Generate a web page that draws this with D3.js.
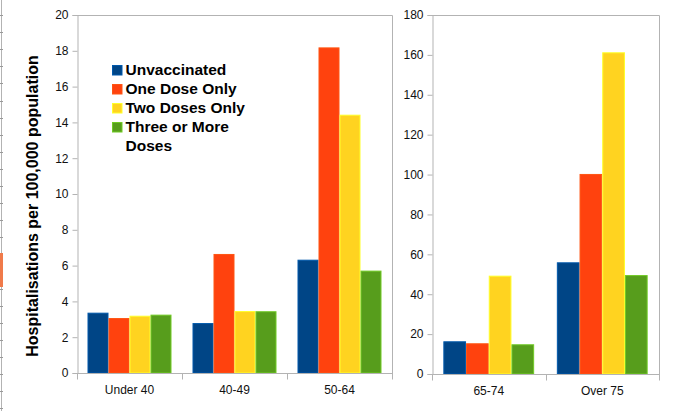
<!DOCTYPE html>
<html>
<head>
<meta charset="utf-8">
<script src="https://cdn.jsdelivr.net/npm/d3@7/dist/d3.min.js"></script>
<style>
  body { margin: 0; background: #fff; }
  svg { display: block; font-family: "Liberation Sans", Arial, sans-serif; }
</style>
</head>
<body>
<svg id="chart" width="675" height="411"></svg>
<script>
// Data
const series = ['Unvaccinated', 'One Dose Only', 'Two Doses Only', 'Three or More Doses'];
const colors = ['#004586', '#ff420e', '#ffd320', '#579d1c'];

const leftCategories = ['Under 40', '40-49', '50-64'];
const leftValues = [
  [3.37, 3.07, 3.2, 3.26],
  [2.79, 6.65, 3.46, 3.45],
  [6.33, 18.19, 14.43, 5.72]
];
const leftTicks = [0, 2, 4, 6, 8, 10, 12, 14, 16, 18, 20];

const rightCategories = ['65-74', 'Over 75'];
const rightValues = [
  [16.4, 15.4, 49.3, 14.9],
  [56.0, 100.3, 161.3, 49.6]
];
const rightTicks = [0, 20, 40, 60, 80, 100, 120, 140, 160, 180];

const svg = d3.select('#chart');
const grey = '#b3b3b3';

// stray spreadsheet edge on the far left
const edge = svg.append('g');
edge.append('line')
  .attr('x1', 1.5).attr('x2', 1.5).attr('y1', 0).attr('y2', 411)
  .attr('stroke', grey);
d3.range(15, 411, 17.1).forEach(y => {
  edge.append('line')
    .attr('x1', 0).attr('x2', 3).attr('y1', Math.round(y) + 0.5).attr('y2', Math.round(y) + 0.5)
    .attr('stroke', '#999');
});
edge.append('rect')
  .attr('x', 0).attr('y', 253).attr('width', 3).attr('height', 34)
  .attr('fill', '#f07a4a');

function drawPanel(opts) {
  const { cats, values, ticks, yMax, left, right, top, bottom, labelX } = opts;
  const g = svg.append('g');

  const x = d3.scaleBand().domain(cats).range([left, right]).padding(0);
  const xi = d3.scaleBand().domain(d3.range(series.length))
    .range([0, x.bandwidth()]).paddingInner(0).paddingOuter(0.5);
  const y = d3.scaleLinear().domain([0, yMax]).range([bottom, top]);

  // frame: top and right
  g.append('path')
    .attr('d', `M${left},${top + 0.5}H${right + 0.5}V${bottom}`)
    .attr('fill', 'none').attr('stroke', grey);

  // y axis
  const yAxis = g.append('g')
    .attr('transform', `translate(${left + 0.5},0)`)
    .call(d3.axisLeft(y).tickValues(ticks).tickSize(5).tickPadding(4));
  yAxis.select('.domain').attr('stroke', grey);
  yAxis.selectAll('.tick line').attr('stroke', grey);
  yAxis.selectAll('.tick text')
    .attr('fill', '#111').attr('font-size', 12)
    .attr('x', labelX - left);
  yAxis.attr('font-family', null);

  // bars
  cats.forEach((c, ci) => {
    values[ci].forEach((v, si) => {
      g.append('rect')
        .attr('x', x(c) + xi(si) + 0.5)
        .attr('y', y(v) + 0.5)
        .attr('width', xi.bandwidth() - 1)
        .attr('height', y(0) - y(v) - 0.5)
        .attr('fill', colors[si])
        .attr('stroke', d3.color(colors[si]).brighter(0.7))
        .attr('stroke-width', 1);
    });
  });

  // x axis
  const xAxis = g.append('g')
    .attr('transform', `translate(0,${bottom + 0.5})`);
  xAxis.append('line')
    .attr('x1', left).attr('x2', right + 1)
    .attr('stroke', grey);
  const bounds = cats.map(c => x(c)).concat([right]);
  bounds.forEach(bx => {
    xAxis.append('line')
      .attr('x1', Math.round(bx) + 0.5).attr('x2', Math.round(bx) + 0.5)
      .attr('y1', 0).attr('y2', 6)
      .attr('stroke', grey);
  });
  cats.forEach(c => {
    xAxis.append('text')
      .attr('x', x(c) + x.bandwidth() / 2)
      .attr('y', 20.5)
      .attr('text-anchor', 'middle')
      .attr('font-size', 12)
      .attr('fill', '#111')
      .text(c);
  });
}

drawPanel({
  cats: leftCategories, values: leftValues, ticks: leftTicks, yMax: 20,
  left: 77, right: 392, top: 15, bottom: 373, labelX: 68
});
drawPanel({
  cats: rightCategories, values: rightValues, ticks: rightTicks, yMax: 180,
  left: 432, right: 659, top: 15, bottom: 374, labelX: 423
});

// y axis title
svg.append('text')
  .attr('transform', 'translate(38,206) rotate(-90)')
  .attr('text-anchor', 'middle')
  .attr('font-size', 16)
  .attr('font-weight', 'bold')
  .attr('fill', '#000')
  .text('Hospitalisations per 100,000 population');

// legend
const legend = svg.append('g');
series.forEach((s, i) => {
  const ly = 65 + i * 19;
  legend.append('rect')
    .attr('x', 112.5).attr('y', ly + 0.5)
    .attr('width', 9.5).attr('height', 9.5)
    .attr('fill', colors[i])
    .attr('stroke', d3.color(colors[i]).brighter(0.7));
  const t = legend.append('text')
    .attr('x', 125.5).attr('y', ly + 10)
    .attr('font-size', 15.5)
    .attr('font-weight', 'bold')
    .attr('fill', '#000');
  if (s === 'Three or More Doses') {
    t.append('tspan').text('Three or More');
    t.append('tspan').attr('x', 125.5).attr('dy', 19).text('Doses');
  } else {
    t.text(s);
  }
});
</script>
</body>
</html>
